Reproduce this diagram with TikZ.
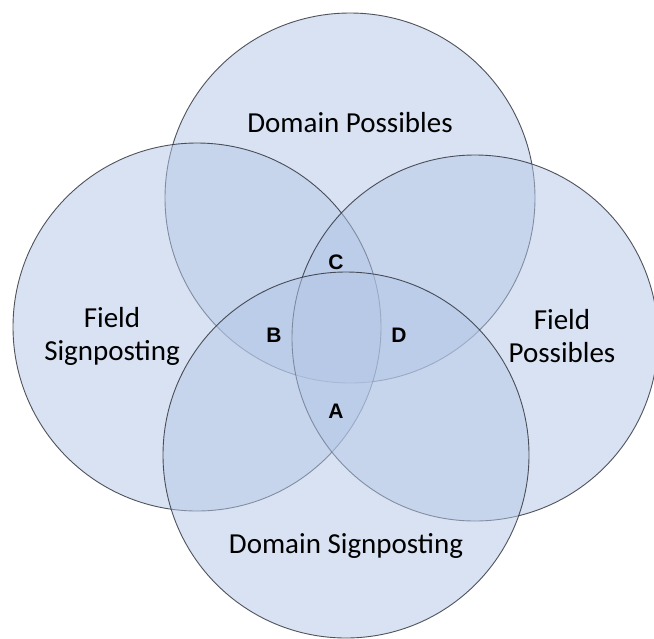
\documentclass[tikz,border=0pt]{standalone}
\usepackage{fontspec}
\setmainfont{Carlito}
\newfontfamily\letterfont{Liberation Sans}
\begin{document}
\begin{tikzpicture}[x=1pt,y=-1pt,
  setcircle/.style={circle, inner sep=0pt, outer sep=0pt, minimum size=#1,
    fill={rgb,255:red,180;green,199;blue,231}, fill opacity=0.5,
    draw={rgb,255:red,40;green,44;blue,52}, draw opacity=0.8, line width=0.9pt},
  setname/.style={font=\fontsize{29}{33}\selectfont, text=black, align=center},
  region/.style={font=\letterfont\bfseries\fontsize{21}{23}\selectfont, text=black}]
  \useasboundingbox (0,0) rectangle (654,638);
  \clip (0,0) rectangle (654,638);
  \fill[white] (0,0) rectangle (654,638);

  % the four overlapping sets
  \node[setcircle=370pt] (domposs) at (350,198) {};
  \node[setcircle=368pt] (fieldsign) at (197,327) {};
  \node[setcircle=366pt] (fieldposs) at (475,338) {};
  \node[setcircle=366pt] (domsign) at (346,455) {};

  % set names
  \node[setname] (tDP) at (350,123) {Domain Possibles};
  \node[setname] (tFS) at (112,336) {Field\\Signposting};
  \node[setname] (tFP) at (562,336) {Field\\Possibles};
  \node[setname] (tDS) at (346,546) {Domain Signposting};

  % region letters
  \node[region] (rC) at (336,262) {C};
  \node[region] (rB) at (274,335) {B};
  \node[region] (rD) at (399,335) {D};
  \node[region] (rA) at (336,411) {A};
\end{tikzpicture}
\end{document}
